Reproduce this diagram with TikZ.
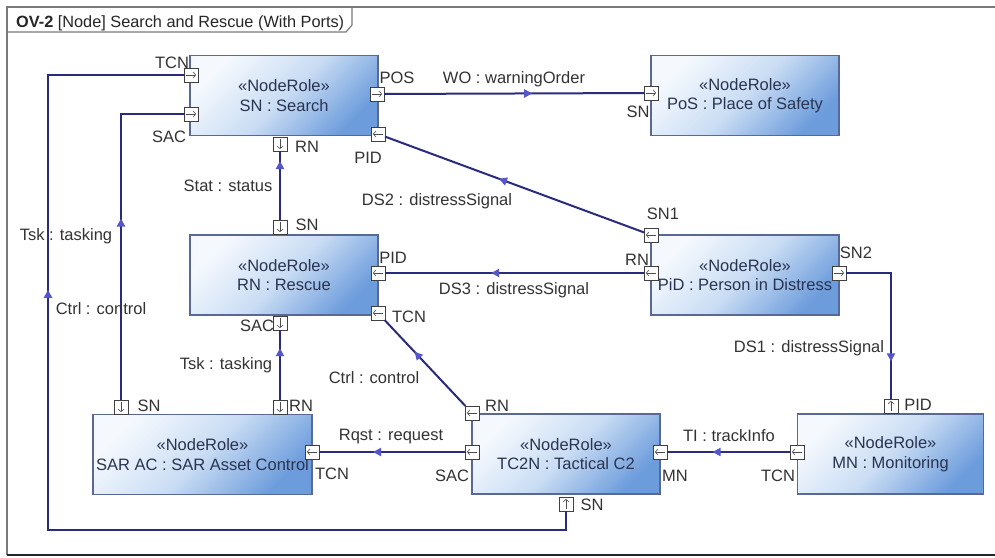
\documentclass[tikz,border=0pt]{standalone}
\usepackage{fontspec}
\setmainfont{Liberation Sans}
\usetikzlibrary{arrows.meta,decorations.markings}
\definecolor{conncol}{HTML}{2B2B7D}
\definecolor{markcol}{HTML}{5656CC}
\definecolor{boxlight}{HTML}{F5F9FE}
\definecolor{boxmid}{HTML}{CADDF4}
\definecolor{boxdark}{HTML}{6C9CDC}
\definecolor{boxedge}{HTML}{5A6896}
\definecolor{boxtext}{HTML}{2A3450}
\definecolor{labtext}{HTML}{333333}
\definecolor{framecol}{HTML}{7A7A7A}
\begin{document}
\begin{tikzpicture}[x=1pt,y=-1pt,
  rolebox/.style={draw=boxedge, line width=1.3pt, top color=boxlight, bottom color=boxdark, middle color=boxmid, shading angle=45,
    minimum width=188pt, minimum height=80pt, inner sep=0pt, align=center, text=boxtext,
    font=\fontsize{16.5}{19.5}\selectfont},
  port/.style={draw=black!75, fill=white, line width=0.8pt, minimum size=14pt, inner sep=0pt, outer sep=0pt},
  parrow/.style={line width=0.6pt, draw=black!70, -{Straight Barb[length=2.5pt,width=6pt]}},
  pR/.style={port, path picture={\draw[parrow] ([xshift=2pt]path picture bounding box.west) -- ([xshift=-2pt]path picture bounding box.east);}},
  pL/.style={port, path picture={\draw[parrow] ([xshift=-2pt]path picture bounding box.east) -- ([xshift=2pt]path picture bounding box.west);}},
  pU/.style={port, path picture={\draw[parrow] ([yshift=2pt]path picture bounding box.south) -- ([yshift=-2pt]path picture bounding box.north);}},
  pD/.style={port, path picture={\draw[parrow] ([yshift=-2pt]path picture bounding box.north) -- ([yshift=2pt]path picture bounding box.south);}},
  lab/.style={font=\fontsize{16.5}{19}\selectfont, text=labtext, inner sep=0pt},
  conn/.style={draw=conncol, line width=2pt},
  flow/.style={postaction={decorate}, decoration={markings, mark=at position #1 with {\arrow[markcol]{Triangle[length=8pt,width=8pt]}}}}
]
\useasboundingbox (0,0) rectangle (995,557);
\fill[white] (0,0) rectangle (995,557);
% frame
\draw[framecol, line width=1.6pt] (995,7) -- (7,7) -- (7,555);
\draw[black!85, line width=2pt] (7,555) -- (995,555);
\draw[framecol, line width=1.2pt] (7,32) -- (346,32) -- (352,25) -- (352,7);
\node[anchor=base west, font=\fontsize{16.3}{19}\selectfont, text=black!85, inner sep=0pt] (title) at (16,27) {\textbf{OV-2} [Node] Search and Rescue (With Ports)};

% boxes
\node[rolebox] (sn) at (284,95.5) {«NodeRole»\\SN : Search};
\node[rolebox] (pos) at (745,95.5) {«NodeRole»\\PoS : Place of Safety};
\node[rolebox] (rn) at (284,275) {«NodeRole»\\RN : Rescue};
\node[rolebox] (pid) at (745,275) {«NodeRole»\\PiD : Person in Distress};
\node[rolebox, minimum width=219pt] (sar) at (202.5,454.5) {«NodeRole»\\SAR AC : SAR Asset Control};
\node[rolebox] (tc) at (566,454) {«NodeRole»\\TC2N : Tactical C2};
\node[rolebox, minimum width=186pt] (mn) at (890.5,454) {«NodeRole»\\MN : Monitoring};

% ports
\node[pR] (sn_tcn) at (191,75) {};
\node[pR] (sn_sac) at (191,114) {};
\node[pR] (sn_pos) at (377,94) {};
\node[pL] (sn_pid) at (378,134) {};
\node[pD] (sn_rn) at (280,144) {};
\node[pR] (pos_sn) at (651,93) {};
\node[pD] (rn_sn) at (280,227) {};
\node[pL] (rn_pid) at (378,273) {};
\node[pL] (rn_tcn) at (378,313) {};
\node[pD] (rn_sac) at (280,323) {};
\node[pL] (pid_sn1) at (651,235) {};
\node[pL] (pid_rn) at (651,273) {};
\node[pR] (pid_sn2) at (839,273) {};
\node[pD] (sar_sn) at (121,407) {};
\node[pD] (sar_rn) at (280,407) {};
\node[pL] (sar_tcn) at (312,452) {};
\node[pL] (tc_rn) at (472,413) {};
\node[pL] (tc_sac) at (472,452) {};
\node[pL] (tc_mn) at (660,452) {};
\node[pU] (tc_sn) at (566,504) {};
\node[pL] (mn_tcn) at (797,452) {};
\node[pU] (mn_pid) at (891,406) {};

% connectors
\coordinate (lb) at (48,530);
\coordinate (lt) at (48,75);
\draw[conn, flow=0.57] (sn_pos) -- (pos_sn);
\draw[conn, flow=0.56] (pid_sn1) -- (sn_pid);
\draw[conn, flow=0.855] (rn_sn) -- (sn_rn);
\draw[conn, flow=0.59] (pid_rn) -- (rn_pid);
\draw[conn, flow=0.78] (pid_sn2) -| (mn_pid);
\draw[conn, flow=0.52] (sar_sn) |- (sn_sac);
\draw[conn, flow=0.74] (sar_rn) -- (rn_sac);
\draw[conn, flow=0.63] (tc_rn) -- (rn_tcn);
\draw[conn, flow=0.689] (tc_sn) |- (lb) -- (lt) -- (sn_tcn);
\draw[conn, flow=0.63] (tc_sac) -- (sar_tcn);
\draw[conn, flow=0.63] (mn_tcn) -- (tc_mn);

% connector labels
\node[lab] (l_wo) at (514,79) {WO : warningOrder};
\node[lab] (l_ds2) at (437,201) {DS2 : distressSignal};
\node[lab] (l_stat) at (228,186) {Stat : status};
\node[lab] (l_ds3) at (514,290) {DS3 : distressSignal};
\node[lab] (l_ds1) at (809,348) {DS1 : distressSignal};
\node[lab] (l_tsk1) at (66,236) {Tsk : tasking};
\node[lab] (l_ctrl1) at (101,309) {Ctrl : control};
\node[lab] (l_tsk2) at (226,365) {Tsk : tasking};
\node[lab] (l_ctrl2) at (374,378) {Ctrl : control};
\node[lab] (l_rqst) at (391,437) {Rqst : request};
\node[lab] (l_ti) at (729,436) {TI : trackInfo};

% port labels
\node[lab] (t1) at (172,63) {TCN};
\node[lab] (t2) at (169,137) {SAC};
\node[lab] (t3) at (397,78) {POS};
\node[lab] (t4) at (368,158) {PID};
\node[lab] (t5) at (307,147) {RN};
\node[lab] (t6) at (638,112) {SN};
\node[lab] (t7) at (307,225) {SN};
\node[lab] (t8) at (393,258) {PID};
\node[lab] (t9) at (409,317) {TCN};
\node[lab] (t10) at (257,326) {SAC};
\node[lab] (t11) at (663,214) {SN1};
\node[lab] (t12) at (637,260) {RN};
\node[lab] (t13) at (856,253) {SN2};
\node[lab] (t14) at (149,406) {SN};
\node[lab] (t15) at (301,406) {RN};
\node[lab] (t16) at (332,474) {TCN};
\node[lab] (t17) at (497,406) {RN};
\node[lab] (t18) at (452,476) {SAC};
\node[lab] (t19) at (675,476) {MN};
\node[lab] (t20) at (592,505) {SN};
\node[lab] (t21) at (778,476) {TCN};
\node[lab] (t22) at (918,405) {PID};
\end{tikzpicture}
\end{document}
